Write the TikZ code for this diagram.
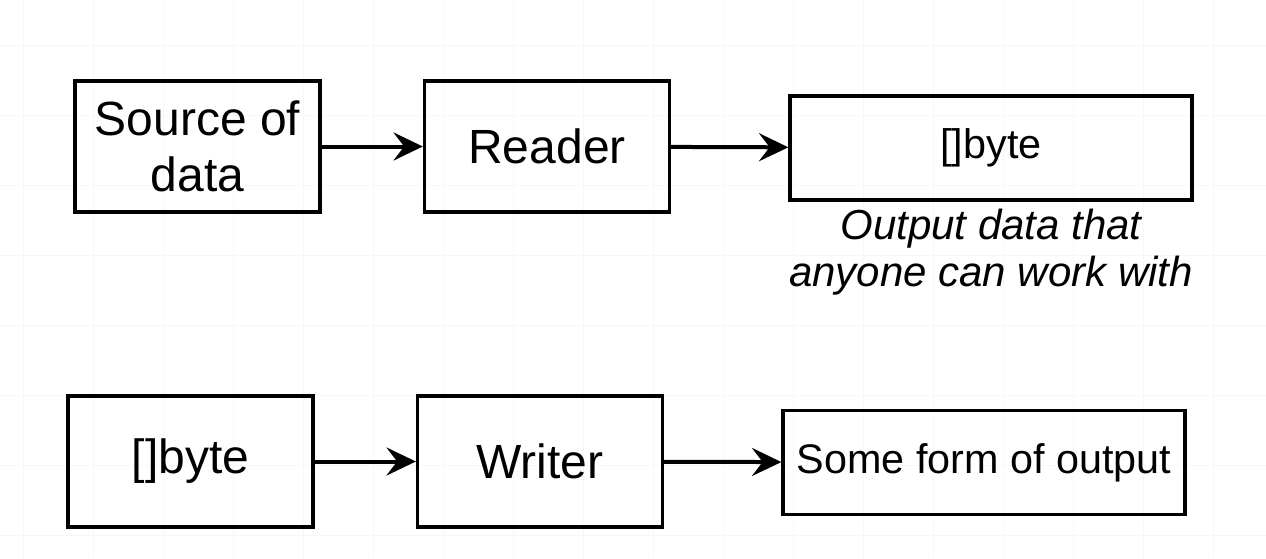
\documentclass[tikz,border=0pt]{standalone}
\usepackage{fontspec}
\setmainfont{Liberation Sans}
\usetikzlibrary{arrows.meta}

\tikzset{every picture/.style={line width=0.75pt}}
\tikzset{
  gridline/.style={color=black!3, line width=0.75pt},
  block/.style={draw, line width=2.5pt, inner sep=0pt, align=center, font=\fontsize{36}{42}\selectfont},
  bigblock/.style={block, minimum width=183.75pt, minimum height=98.25pt},
  wideblock/.style={block, minimum width=301.5pt, minimum height=78pt, font=\fontsize{31}{38}\selectfont},
  flow/.style={line width=3pt, -{Stealth[length=22pt, width=21pt, inset=8pt]}},
}

\begin{document}
\begin{tikzpicture}[x=0.75pt,y=0.75pt,yscale=-1,xscale=1]
	%set diagram size
	\useasboundingbox (0,0) rectangle (1266,558);
	\fill[white] (0,0) rectangle (1266,558);
	
	%background grid
	\foreach \gx in {23,93,...,1266} \draw[gridline] (\gx,0) -- (\gx,558);
	\foreach \gy in {45,115,...,558} \draw[gridline] (0,\gy) -- (1266,\gy);
	
	%top row: reading
	\node[bigblock] (source) at (197.5,146.5) {Source of\\data};
	\node[bigblock] (reader) at (547,146.5) {Reader};
	\node[wideblock] (outbytes) at (991,148) {[]byte};
	\node[align=center, inner sep=0pt, font=\fontsize{31.5}{35}\selectfont\itshape] (outnote) at (991,252) {Output data that\\anyone can work with};
	
	%bottom row: writing
	\node[bigblock] (inbytes) at (190.5,461.5) {[]byte};
	\node[bigblock] (writer) at (540,461.5) {Writer};
	\node[wideblock] (output) at (984,462.5) {Some form of output};
	
	%connectors
	\draw[flow] (source) -- (reader);
	\draw[flow] (reader) -- (outbytes);
	\draw[flow] (inbytes) -- (writer);
	\draw[flow] (writer) -- (output);
	
\end{tikzpicture}
\end{document}
